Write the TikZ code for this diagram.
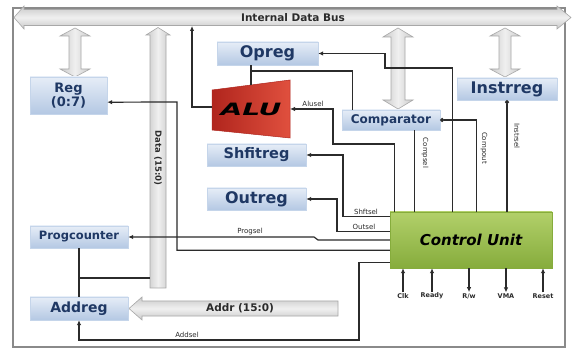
\documentclass[tikz,border=0pt]{standalone}
\usepackage{fontspec}
\setmainfont{DejaVu Sans}
\usetikzlibrary{arrows.meta,calc,shadows}
\definecolor{navy}{HTML}{1F3864}
\definecolor{boxtop}{HTML}{E6EDF7}
\definecolor{boxbot}{HTML}{B4C8E3}
\definecolor{boxedge}{HTML}{C5D5EA}
\definecolor{linec}{HTML}{2B2B2B}
\definecolor{fatedge}{HTML}{A8A8A8}
\definecolor{fatL}{HTML}{C9C9C9}
\definecolor{fatM}{HTML}{F0F0F0}
\definecolor{framec}{HTML}{8A8A8A}
\definecolor{cutop}{HTML}{B2D06A}
\definecolor{cubot}{HTML}{86AC3C}
\definecolor{aluL}{HTML}{B0251D}
\definecolor{aluR}{HTML}{E0503E}
\begin{document}
\begin{tikzpicture}[x=1pt,y=-1pt,
  blk/.style={rectangle, top color=boxtop, bottom color=boxbot, draw=boxedge, line width=0.4pt,
    text=navy, inner sep=0pt, align=center,
    drop shadow={opacity=0.18, shadow xshift=1pt, shadow yshift=-1pt}},
  sig/.style={draw=linec, line width=1.2pt},
  arr/.style={-{Latex[length=5pt,width=4.5pt]}},
  dotarr/.style={{Circle[length=4pt]}-},
  vfat/.style={draw=fatedge, line width=0.6pt, left color=fatL, right color=fatL, middle color=fatM},
  hfat/.style={draw=fatedge, line width=0.6pt, top color=fatL, bottom color=fatL, middle color=fatM},
  lab/.style={font=\fontsize{7}{8}\selectfont, text=linec, inner sep=1pt},
  pinlab/.style={font=\fontsize{6.5}{7}\selectfont\bfseries, text=linec, inner sep=1pt},
]
\useasboundingbox (0,0) rectangle (575,352);
\fill[white] (0,0) rectangle (575,352);
% frame
\draw[framec, line width=1.2pt] (13,8) rectangle (565,347);
% internal data bus
\path[hfat] (14,17.5) -- (24,6) -- (24,9.5) -- (557,9.5) -- (557,6) -- (571,17.5) -- (557,29) -- (557,25.5) -- (24,25.5) -- (24,29) -- cycle;
\node[font=\fontsize{10.5}{12}\selectfont\bfseries, text=linec] (busl) at (293,17.5) {Internal Data Bus};
% fat vertical arrows
\path[vfat] (60,36) -- (75,28) -- (90,36) -- (81,36) -- (81,69) -- (90,69) -- (75,77) -- (60,69) -- (69,69) -- (69,36) -- cycle;
\path[vfat] (383,37) -- (398,28) -- (413,37) -- (405,37) -- (405,100) -- (413,100) -- (398,109) -- (383,100) -- (391,100) -- (391,37) -- cycle;
\path[vfat] (490,36) -- (505,28) -- (520,36) -- (511,36) -- (511,69) -- (520,69) -- (505,77) -- (490,69) -- (499,69) -- (499,36) -- cycle;
% data bar
\path[vfat] (146,35) -- (158,27.5) -- (170,35) -- (166,35) -- (166,288) -- (150,288) -- (150,35) -- cycle;
\node[font=\fontsize{8.5}{9}\selectfont\bfseries, text=linec, rotate=-90] (datal) at (158,158) {Data (15:0)};
% address arrow
\path[hfat] (129,308.5) -- (142,297) -- (142,301) -- (338,301) -- (338,316) -- (142,316) -- (142,320) -- cycle;
\node[font=\fontsize{10.5}{12}\selectfont\bfseries, text=linec] (addrl) at (240,308.5) {Addr (15:0)};

% boxes
\node[blk, minimum width=77pt, minimum height=37pt, font=\fontsize{13}{14}\selectfont\bfseries] (reg) at (68.5,95.5) {Reg\\(0:7)};
\node[blk, minimum width=101pt, minimum height=23pt, font=\fontsize{16}{18}\selectfont\bfseries] (opreg) at (267.5,53.5) {Opreg};
\node[blk, minimum width=98pt, minimum height=20pt, font=\fontsize{12}{14}\selectfont\bfseries] (comp) at (391,120) {Comparator};
\node[blk, minimum width=100pt, minimum height=22pt, font=\fontsize{16}{18}\selectfont\bfseries] (instr) at (507,89) {Instrreg};
\node[blk, minimum width=99pt, minimum height=22pt, font=\fontsize{14.5}{16}\selectfont\bfseries] (shift) at (256.5,155) {Shfitreg};
\node[blk, minimum width=99pt, minimum height=22pt, font=\fontsize{16}{18}\selectfont\bfseries] (outreg) at (256.5,199) {Outreg};
\node[blk, minimum width=98pt, minimum height=22pt, font=\fontsize{11.5}{13}\selectfont\bfseries] (prog) at (79,237) {Progcounter};
\node[blk, minimum width=98pt, minimum height=23pt, font=\fontsize{14}{16}\selectfont\bfseries] (addreg) at (79,308.5) {Addreg};
\node[rectangle, top color=cutop, bottom color=cubot, draw=cubot, minimum width=162pt, minimum height=56pt,
  font=\fontsize{15}{18}\selectfont\bfseries\itshape, text=black,
  drop shadow={opacity=0.2, shadow xshift=1pt, shadow yshift=-1pt}] (cu) at (471,240) {Control Unit};
% ALU
\shade[left color=aluL, right color=aluR, draw=aluL, line width=0.5pt] (212,90) -- (290,80) -- (290,138) -- (212,130) -- cycle;
\node[text=black] (alu) at (251,109) {\scalebox{1.65}[1]{\fontsize{17}{17}\selectfont\bfseries\itshape ALU}};
\coordinate (aluLft) at (212,107);
\coordinate (aluRgt) at (290,109);
\coordinate (aluTop) at (251,85);
\coordinate (busA) at (192,26);
\coordinate (opbr) at (251,71);
\coordinate (barL) at (150,278);
\coordinate (pcbr) at (79,278);

% connectors
\draw[sig, arr] (aluLft) -| (busA);
\draw[sig] (opreg.south -| aluTop) -- (aluTop);
\draw[sig] (opbr) -| ($(comp.north west)+(11,0)$);
\draw[sig, arr] ($(cu.north west)+(63,0)$) |- (385,68) |- (opreg.east);
\draw[sig, arr] ($(cu.north west)+(5,0)$) |- (333,144) |- (aluRgt);
\draw[sig] ($(comp.south west)+(73,0)$) -- ($(cu.north west)+(25,0)$);
\draw[sig, dotarr] (comp.east) -| ($(cu.north west)+(87,0)$);
\draw[sig, dotarr] (instr.south) -- (instr.south |- cu.north);
\draw[sig, arr] ($(cu.north west)+(0,5)$) -| (343,180) |- (shift.east);
\draw[sig, arr] ($(cu.north west)+(0,20)$) -| (337,199) -- (outreg.east);
\draw[sig, arr] (cu.west) -- (318,240) -- (314,237) -- (prog.east);
\draw[sig, arr] ($(cu.south west)+(0,-18)$) -| (177,102) -- ($(reg.south east)+(0,-12)$);
\draw[sig, arr] ($(cu.south west)+(0,-6)$) -| (359,340) -| (addreg.south);
\draw[sig] (prog.south) -- (addreg.north);
\draw[sig] (pcbr) -- (barL);

% connector labels
\node[lab] (lalu) at (313,103.5) {Alusel};
\node[lab] (lshift) at (366,212) {Shftsel};
\node[lab] (lout) at (364,227) {Outsel};
\node[lab] (lprog) at (250,231.5) {Progsel};
\node[lab] (laddr) at (187,335) {Addsel};
\node[lab, rotate=-90] (lcs) at (425,153) {Compsel};
\node[lab, rotate=-90] (lco) at (484,148) {Compout};
\node[lab, rotate=-90] (lin) at (517,136) {Instrsel};

% control unit pins
\node[pinlab] (clk) at (403,296) {Clk};
\node[pinlab] (ready) at (432,296) {Ready};
\node[pinlab] (rw) at (469,296) {R/w};
\node[pinlab] (vma) at (506,296) {VMA};
\node[pinlab] (reset) at (543,296) {Reset};
\draw[sig, arr] (clk.north) -- (clk.north |- cu.south);
\draw[sig, arr] (ready.north) -- (ready.north |- cu.south);
\draw[sig, arr] (reset.north) -- (reset.north |- cu.south);
\draw[sig, arr] (rw.north |- cu.south) -- (rw.north);
\draw[sig, arr] (vma.north |- cu.south) -- (vma.north);
\end{tikzpicture}
\end{document}
